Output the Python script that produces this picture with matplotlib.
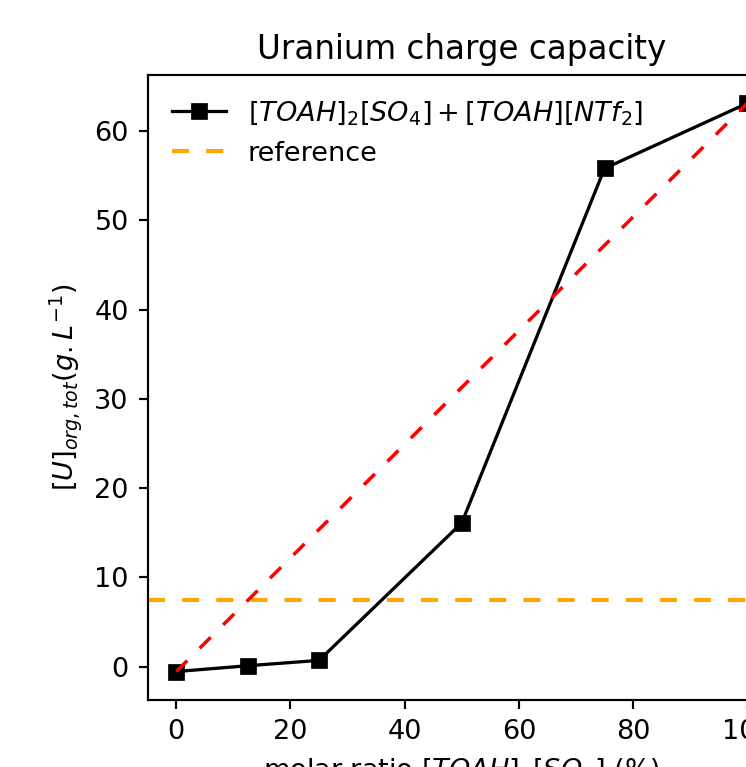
import matplotlib
matplotlib.use("Agg")
import matplotlib.pyplot as plt

# molar ratio of [TOAH]2[SO4] (%) and total organic uranium (g/L)
ratio = [0, 12.5, 25, 50, 75, 100]
u_org = [-0.55, 0.1, 0.7, 16.1, 55.8, 63.1]
reference_level = 7.5

DPI = 195
fig = plt.figure(figsize=(746 / DPI, 767 / DPI), dpi=DPI)
# the axes runs past the right edge of the canvas, as in the source image
ax = fig.add_axes([0.198, 0.0874, 0.842, 0.815])

ax.plot(ratio, u_org, color='black', marker='s', linewidth=1.2,
        markersize=5.2, label=r'$[TOAH]_2[SO_4] + [TOAH][NTf_2]$')
ax.axhline(reference_level, color='orange', linewidth=1.5,
           linestyle=(0, (4.2, 4.2)), label='reference')
ax.plot([ratio[0], ratio[-1]], [u_org[0], u_org[-1]], color='red',
        linewidth=1.3, linestyle=(0, (4.4, 5.0)))

ax.set_title('Uranium charge capacity')
ax.set_xlabel(r'molar ratio $[TOAH]_2[SO_4]$ (%)')
ax.set_ylabel(r'$[U]_{org,tot} (g.L^{-1})$')
ax.legend(loc='upper left', frameon=False)

fig.savefig('out.png', dpi=DPI)
